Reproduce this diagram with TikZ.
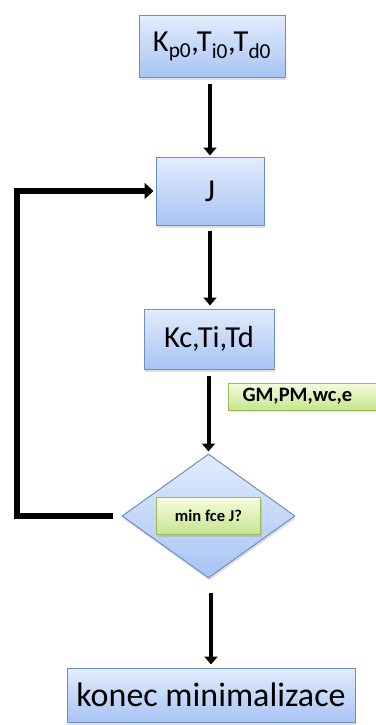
\documentclass[tikz,border=0pt]{standalone}
\usepackage{fontspec}
\setmainfont{Carlito}
\usetikzlibrary{shapes.geometric,shadows,arrows.meta}
\definecolor{bluetop}{HTML}{E2ECFC}
\definecolor{bluebot}{HTML}{A8C4F4}
\definecolor{blueline}{HTML}{6B8FC7}
\definecolor{greentop}{HTML}{F6FBDF}
\definecolor{greenbot}{HTML}{C6E58E}
\definecolor{greenline}{HTML}{9BBB59}
\tikzset{
  bluebox/.style={draw=blueline, line width=1pt, top color=bluetop, bottom color=bluebot,
    inner sep=0pt, drop shadow={shadow xshift=1pt, shadow yshift=-2.5pt, opacity=0.25}},
  greenbox/.style={draw=greenline, line width=1pt, top color=greentop, bottom color=greenbot,
    inner sep=0pt, drop shadow={shadow xshift=1pt, shadow yshift=-2pt, opacity=0.25}},
  flow/.style={line width=4pt, -{Triangle[width=13pt,length=8pt]}},
  loop/.style={line width=6pt, -{Triangle[width=16pt,length=9pt]}},
}
\begin{document}
\begin{tikzpicture}[x=1pt,y=-1pt]
\useasboundingbox (0,0) rectangle (375,725);
\node[bluebox, minimum width=146pt, minimum height=61pt, font=\fontsize{30.5}{34}\selectfont]
  (b1) at (212,46.5) {K\textsubscript{p0},T\textsubscript{i0},T\textsubscript{d0}};
\node[bluebox, minimum width=108pt, minimum height=68pt, font=\fontsize{32}{36}\selectfont]
  (j) at (210,191) {J};
\node[bluebox, minimum width=130pt, minimum height=60pt, font=\fontsize{30.5}{34}\selectfont]
  (kc) at (209,339) {Kc,Ti,Td};
\node[greenbox, minimum width=150pt, minimum height=27pt, anchor=west, text width=150pt, align=left,
  font=\bfseries\fontsize{20.5}{22}\selectfont]
  (gm) at (228,396.5) {\hspace*{14pt}GM,PM,wc,e};
\node[diamond, draw=blueline, line width=1pt, top color=bluetop, bottom color=bluebot,
  inner sep=0pt, aspect=1.395, minimum width=173pt, minimum height=124pt,
  drop shadow={shadow xshift=1pt, shadow yshift=-2.5pt, opacity=0.25}]
  (dia) at (208.5,516) {};
\node[greenbox, minimum width=104pt, minimum height=37pt, font=\bfseries\fontsize{16.5}{18}\selectfont]
  (q) at (dia.center) {min fce J?};
\node[bluebox, minimum width=288pt, minimum height=54pt, font=\fontsize{34}{38}\selectfont]
  (end) at (211,695) {konec minimalizace};
\coordinate (lp) at (17,0);
\draw[flow, shorten <=6pt, shorten >=1pt] (b1.south -| j.north) -- (j.north);
\draw[flow, shorten <=5pt, shorten >=3pt] (j.south) -- (j.south |- kc.north);
\draw[flow, shorten <=6pt, shorten >=2pt] (kc.south -| dia.north) -- (dia.north);
\draw[flow, shorten <=14pt, shorten >=3pt] (dia.south -| end.north) -- (end.north);
\draw[loop, shorten <=9pt, shorten >=2pt] (dia.west) -| (lp |- j.west) -- (j.west);
\end{tikzpicture}
\end{document}
